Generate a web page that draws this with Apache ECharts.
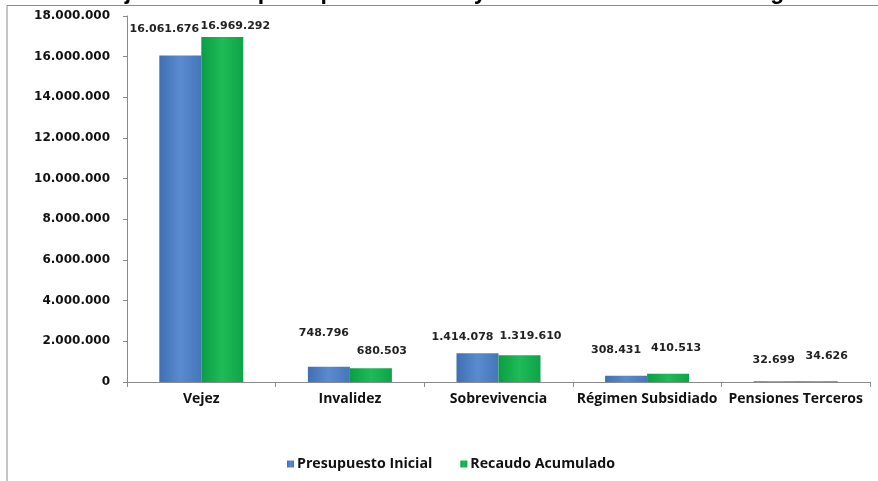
<!DOCTYPE html>
<html>
<head>
<meta charset="utf-8">
<script src="https://cdn.jsdelivr.net/npm/echarts@6/dist/echarts.min.js"></script>
<style>
  html, body { margin: 0; padding: 0; background: #fff; }
  #chart { width: 878px; height: 481px; }
</style>
</head>
<body>
<div id="chart"></div>
<script>
// Budget vs. collected revenue by benefit line
const categories = ['Vejez', 'Invalidez', 'Sobrevivencia', 'Régimen Subsidiado', 'Pensiones Terceros'];
const presupuestoInicial = [16061676, 748796, 1414078, 308431, 32699];
const recaudoAcumulado = [16969292, 680503, 1319610, 410513, 34626];
const seriesNames = ['Presupuesto Inicial', 'Recaudo Acumulado'];
const yTicks = { min: 0, max: 18000000, interval: 2000000 };

// hand-placed label nudges [dx, dy] per bar
const blueLabelNudge = [[-16, -16], [-5, -23], [-15, -6], [-10, -15], [-1, -11]];
const greenLabelNudge = [[13, 0], [11, -7], [11, -9], [8, -15], [10, -15]];

const fmt = v => String(v).replace(/\B(?=(\d{3})+(?!\d))/g, '.');

const blueFill = new echarts.graphic.LinearGradient(0, 0, 1, 0, [
  { offset: 0, color: '#3f70b3' },
  { offset: 0.5, color: '#5a8bd0' },
  { offset: 1, color: '#4476b8' }
]);
const greenFill = new echarts.graphic.LinearGradient(0, 0, 1, 0, [
  { offset: 0, color: '#0a9e44' },
  { offset: 0.5, color: '#1fbb58' },
  { offset: 1, color: '#0ea448' }
]);

const labelStyle = {
  show: true,
  position: 'top',
  distance: 5,
  fontFamily: 'DejaVu Sans',
  fontWeight: 'bold',
  fontSize: 11,
  color: '#222',
  formatter: p => fmt(p.value)
};

function build(values, nudges) {
  return values.map((v, i) => ({
    value: v,
    label: { offset: nudges[i] }
  }));
}

const chart = echarts.init(document.getElementById('chart'));
chart.setOption({
  animation: false,
  backgroundColor: '#fff',
  graphic: [
    {
      type: 'text',
      left: -40,
      top: -19,
      style: {
        text: 'Gráfico No. 3 Ejecución de presupuesto inicial y recaudo acumulado de ingresos',
        font: 'bold 23px "Liberation Sans"',
        fill: '#000'
      }
    },
    {
      type: 'rect',
      shape: { x: 7, y: 5.5, width: 900, height: 500 },
      style: { fill: 'none', stroke: '#8c8c8c', lineWidth: 1 }
    }
  ],
  grid: { left: 127, right: 8, top: 16, bottom: 99, containLabel: false },
  legend: {
    data: seriesNames,
    bottom: 5,
    left: 282,
    itemWidth: 7,
    itemHeight: 7,
    itemGap: 28,
    icon: 'rect',
    textStyle: { fontFamily: 'Open Sans', fontWeight: 'bold', fontSize: 14.2, color: '#111', padding: [0, 0, 0, -2] }
  },
  xAxis: {
    type: 'category',
    data: categories,
    axisLine: { lineStyle: { color: '#8a8a8a' } },
    axisTick: { show: true, length: 5, lineStyle: { color: '#8a8a8a' } },
    axisLabel: {
      fontFamily: 'Open Sans', fontWeight: 'bold', fontSize: 14, color: '#111',
      margin: 10, interval: 0
    }
  },
  yAxis: {
    type: 'value',
    min: yTicks.min,
    max: yTicks.max,
    interval: yTicks.interval,
    splitLine: { show: false },
    axisLine: { show: true, lineStyle: { color: '#8a8a8a' } },
    axisTick: { show: true, length: 4, lineStyle: { color: '#8a8a8a' } },
    axisLabel: {
      fontFamily: 'DejaVu Sans', fontWeight: 'bold', fontSize: 12, color: '#111',
      margin: 17, formatter: v => fmt(v)
    }
  },
  series: [
    {
      name: seriesNames[0],
      type: 'bar',
      barWidth: 42,
      barGap: '0%',
      itemStyle: { color: blueFill },
      label: labelStyle,
      data: build(presupuestoInicial, blueLabelNudge)
    },
    {
      name: seriesNames[1],
      type: 'bar',
      barWidth: 42,
      barGap: '0%',
      itemStyle: { color: greenFill },
      label: labelStyle,
      data: build(recaudoAcumulado, greenLabelNudge)
    }
  ]
});
// legend swatches use flat colours
chart.setOption({
  series: [
    { name: seriesNames[0], color: '#4f81c4' },
    { name: seriesNames[1], color: '#14ad50' }
  ]
});
</script>
</body>
</html>
